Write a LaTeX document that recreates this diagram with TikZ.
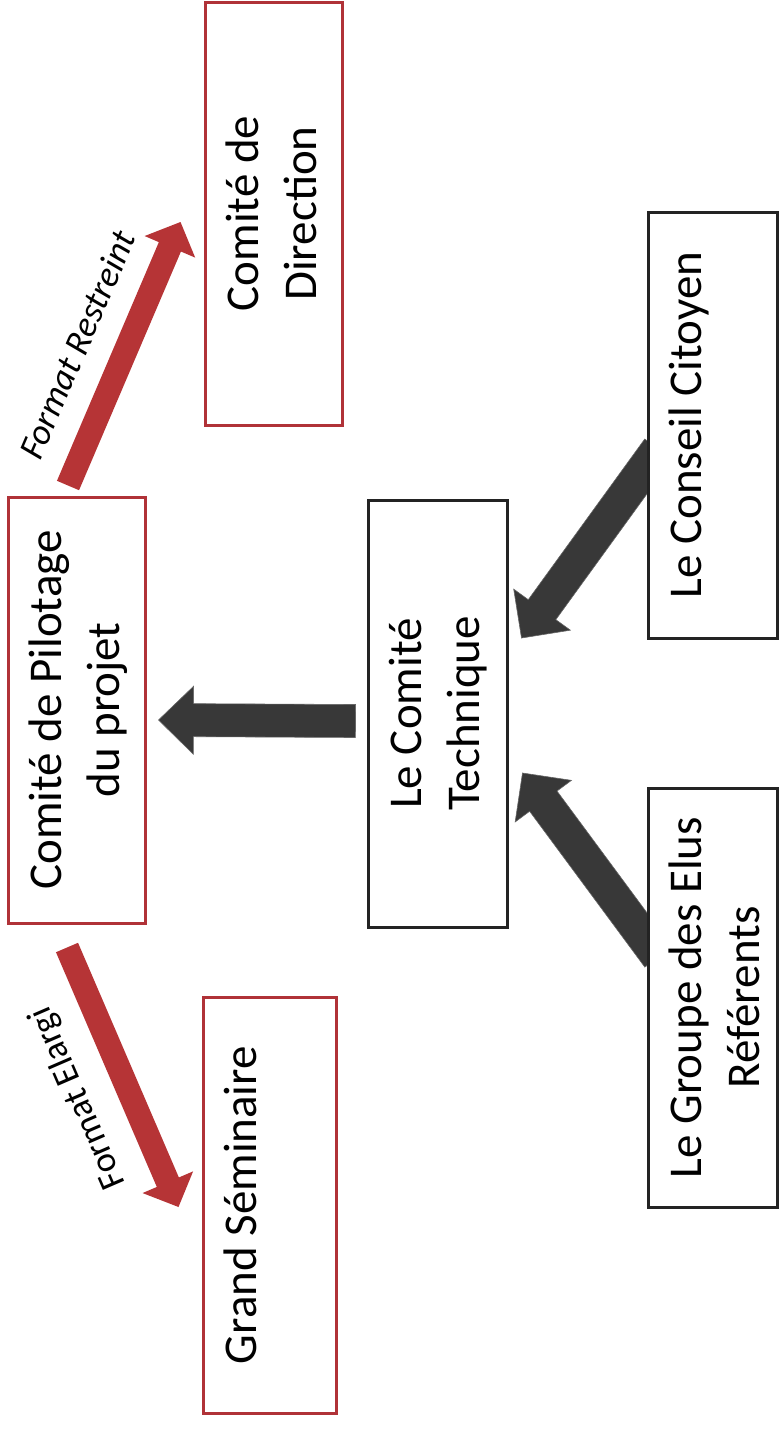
\documentclass[tikz,border=0pt]{standalone}
\usepackage{fontspec}
\setmainfont{Carlito}
\usetikzlibrary{calc}
\pgfdeclarelayer{bg}
\pgfsetlayers{bg,main}
\definecolor{boxred}{RGB}{176,50,56}
\definecolor{arrred}{RGB}{182,52,54}
\definecolor{arrdark}{RGB}{56,56,56}
\definecolor{boxdark}{RGB}{35,35,35}
\newcommand\blockarrow[6]{%
  \coordinate (hb) at ($(#2)!#5!(#1)$);
  \fill[#6] ($(#1)!#3!90:(#2)$) -- ($(hb)!#3!90:(#2)$) -- ($(hb)!#4!90:(#2)$) -- (#2)
    -- ($(hb)!#4!-90:(#2)$) -- ($(hb)!#3!-90:(#2)$) -- ($(#1)!#3!-90:(#2)$) -- cycle;}
\tikzset{
  redbox/.style={draw=boxred, line width=3pt, fill=white, inner sep=0pt},
  darkbox/.style={draw=boxdark, line width=3pt, fill=white, inner sep=0pt},
  maintxt/.style={rotate=90, align=center, inner sep=0pt, anchor=north, font=\fontsize{47}{58}\selectfont},
  lbl/.style={inner sep=0pt, font=\fontsize{36}{42}\selectfont},
  redarr/.style={fill=arrred},
  darkarr/.style={fill=arrdark, draw=black!60, line width=0.6pt, line join=miter}
}
\begin{document}
\begin{tikzpicture}[x=1pt, y=-1pt]
\useasboundingbox (0,0) rectangle (779,1435);
% boxes
\node[redbox, minimum width=137pt, minimum height=423pt] (dir) at (273.5,213.5) {};
\node[redbox, minimum width=137pt, minimum height=426pt] (pil) at (76.5,710) {};
\node[redbox, minimum width=133pt, minimum height=416pt] (gs) at (269.5,1205) {};
\node[darkbox, minimum width=139pt, minimum height=427pt] (tech) at (437.5,713.5) {};
\node[darkbox, minimum width=129pt, minimum height=426pt] (cit) at (712.5,425) {};
\node[darkbox, minimum width=129pt, minimum height=419pt] (grp) at (712.5,997.5) {};
% texts
\node[maintxt] (dirt) at ($(dir.west)+(14.4,0)$) {\strut Comité de\\Direction};
\node[maintxt] (pilt) at ($(pil.west)+(14.4,0)$) {\strut Comité de Pilotage\\du projet};
\node[maintxt] (gst) at ($(gs.west)+(14.4,0)$) {\strut Grand Séminaire};
\node[maintxt] (techt) at ($(tech.west)+(14.4,0)$) {\strut Le Comité\\Technique};
\node[maintxt] (citt) at ($(cit.west)+(14.4,0)$) {\strut Le Conseil Citoyen};
\node[maintxt] (grpt) at ($(grp.west)+(14.4,0)$) {\strut Le Groupe des Elus\\Référents};
% labels
\node[lbl, rotate=66.7, font=\fontsize{36}{42}\selectfont\itshape] (lres) at (77,345) {Format Restreint};
\node[lbl, rotate=113.4] (lela) at (78,1098) {Format Elargi};
% arrow end points
\coordinate (rT) at ($(pil.north)+(-8.5,-10)$);
\coordinate (rH) at ($(dir.west)+(-23,8.5)$);
\coordinate (eT) at ($(pil.south)+(-9.5,23)$);
\coordinate (eH) at ($(gs.west)+(-23,2)$);
\coordinate (hT) at ($(tech.west)+(-11,7.5)$);
\coordinate (hH) at ($(pil.east)+(12,10)$);
\coordinate (cT) at ($(cit.west)+(12,24)$);
\coordinate (cH) at ($(tech.east)+(13,-75.5)$);
\coordinate (gT) at ($(grp.west)+(12,-40.5)$);
\coordinate (gH) at ($(tech.east)+(14,59.5)$);
\begin{pgfonlayer}{bg}
\blockarrow{rT}{rH}{12pt}{27.5pt}{27pt}{redarr}
\blockarrow{eT}{eH}{12pt}{27.5pt}{27pt}{redarr}
\blockarrow{hT}{hH}{16.5pt}{34pt}{35pt}{darkarr}
\blockarrow{cT}{cH}{17pt}{35pt}{35pt}{darkarr}
\blockarrow{gT}{gH}{17pt}{35pt}{35pt}{darkarr}
\end{pgfonlayer}
\end{tikzpicture}
\end{document}
